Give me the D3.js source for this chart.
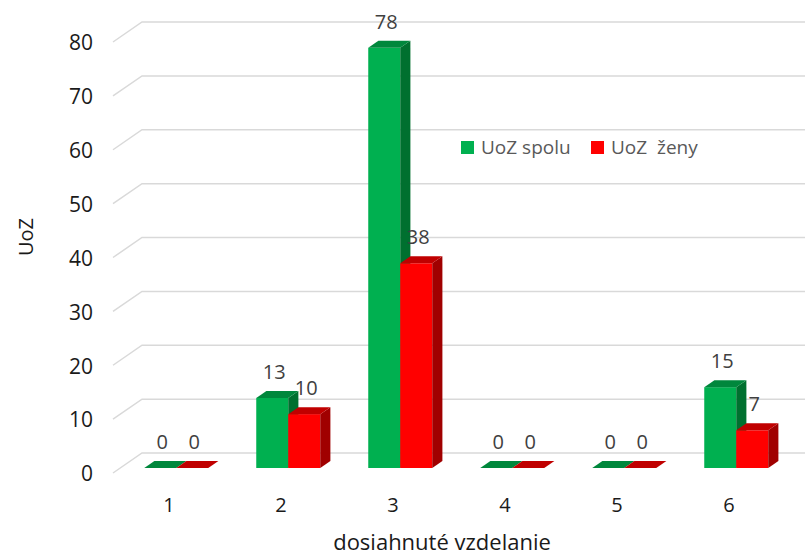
<!DOCTYPE html>
<html>
<head>
<meta charset="utf-8">
<script src="https://cdn.jsdelivr.net/npm/d3@7"></script>
<style>
  body { margin: 0; background: #fff; }
  svg text { font-family: "Open Sans", "Noto Sans", sans-serif; }
</style>
</head>
<body>
<div id="chart"></div>
<script>
// data
var categories = ["1", "2", "3", "4", "5", "6"];
var seriesNames = ["UoZ spolu", "UoZ  ženy"];
var spolu = [0, 13, 78, 0, 0, 15];
var zeny = [0, 10, 38, 0, 0, 7];
var yTicks = [0, 10, 20, 30, 40, 50, 60, 70, 80];

var seriesValues = [spolu, zeny];
var colors = [
  { front: "#00b050", side: "#00702f", top: "#00873c" },
  { front: "#ff0000", side: "#a00000", top: "#c00000" }
];

var width = 805, height = 555;
var svg = d3.select("#chart").append("svg")
  .attr("width", width).attr("height", height);

// floor depth vector (front -> back wall)
var depth = { dx: 29, dy: -20 };
var fFront = 0.25, fBack = 0.6;

var y = d3.scaleLinear().domain([0, 80]).range([473, 42]);
var x = d3.scaleBand().domain(categories).range([113, 113 + 672]);
var xs = d3.scaleBand().domain(seriesNames).range([0, 64]);

// gridlines: left wall diagonal + back wall
var grid = svg.append("g");
yTicks.forEach(function(t) {
  var yf = y(t);
  grid.append("polyline")
    .attr("points", [[113, yf], [113 + depth.dx, yf + depth.dy], [width, yf + depth.dy]].join(" "))
    .attr("fill", "none")
    .attr("stroke", "#d9d9d9")
    .attr("stroke-width", 1.5);
});

// y tick labels
svg.append("g").selectAll("text").data(yTicks).enter().append("text")
  .attr("x", 93)
  .attr("y", function(d) { return y(d) + 1; })
  .attr("dy", "0.35em")
  .attr("text-anchor", "end")
  .attr("font-size", 21)
  .attr("fill", "#1a1a1a")
  .text(function(d) { return d; });

// bars
var bars = svg.append("g");
var labels = svg.append("g");
var bw = xs.bandwidth();
var sx0 = depth.dx * fFront, sy0 = depth.dy * fFront;
var bdx = depth.dx * (fBack - fFront), bdy = depth.dy * (fBack - fFront);

categories.forEach(function(c, i) {
  seriesNames.forEach(function(s, k) {
    var v = seriesValues[k][i];
    var x0 = x(c) + (x.bandwidth() - 64) / 2 + xs(s) + sx0;
    var x1 = x0 + bw;
    var yb = y(0) + sy0;
    var yt = y(v) + sy0;
    var col = colors[k];
    // front face
    bars.append("rect")
      .attr("x", x0).attr("y", yt)
      .attr("width", bw).attr("height", yb - yt)
      .attr("fill", col.front);
    // side face
    bars.append("polygon")
      .attr("points", [[x1, yt], [x1 + bdx, yt + bdy], [x1 + bdx, yb + bdy], [x1, yb]].join(" "))
      .attr("fill", col.side);
    // top face
    bars.append("polygon")
      .attr("points", [[x0, yt], [x0 + bdx, yt + bdy], [x1 + bdx, yt + bdy], [x1, yt]].join(" "))
      .attr("fill", col.top);
    // data label
    labels.append("text")
      .attr("x", (x0 + x1) / 2 + 2)
      .attr("y", yt + bdy - 19)
      .attr("dy", "0.35em")
      .attr("text-anchor", "middle")
      .attr("font-size", 20)
      .attr("fill", "#404040")
      .text(v);
  });
});

// category labels
svg.append("g").selectAll("text").data(categories).enter().append("text")
  .attr("x", function(d) { return x(d) + x.bandwidth() / 2; })
  .attr("y", 505)
  .attr("dy", "0.35em")
  .attr("text-anchor", "middle")
  .attr("font-size", 20)
  .attr("fill", "#1a1a1a")
  .text(function(d) { return d; });

// axis titles
svg.append("text")
  .attr("transform", "translate(26,237) rotate(-90)")
  .attr("text-anchor", "middle")
  .attr("dy", "0.35em")
  .attr("font-size", 20)
  .attr("fill", "#1a1a1a")
  .text("UoZ");

svg.append("text")
  .attr("x", 442)
  .attr("y", 542)
  .attr("dy", "0.35em")
  .attr("text-anchor", "middle")
  .attr("font-size", 22)
  .attr("fill", "#1a1a1a")
  .text("dosiahnuté vzdelanie");

// legend
var legendX = [461, 591];
var legend = svg.append("g");
seriesNames.forEach(function(s, k) {
  legend.append("rect")
    .attr("x", legendX[k]).attr("y", 141)
    .attr("width", 13).attr("height", 13)
    .attr("fill", colors[k].front);
  legend.append("text")
    .attr("x", legendX[k] + 20)
    .attr("y", 147.5)
    .attr("dy", "0.35em")
    .attr("font-size", 19)
    .attr("fill", "#595959")
    .style("white-space", "pre")
    .text(s);
});
</script>
</body>
</html>
